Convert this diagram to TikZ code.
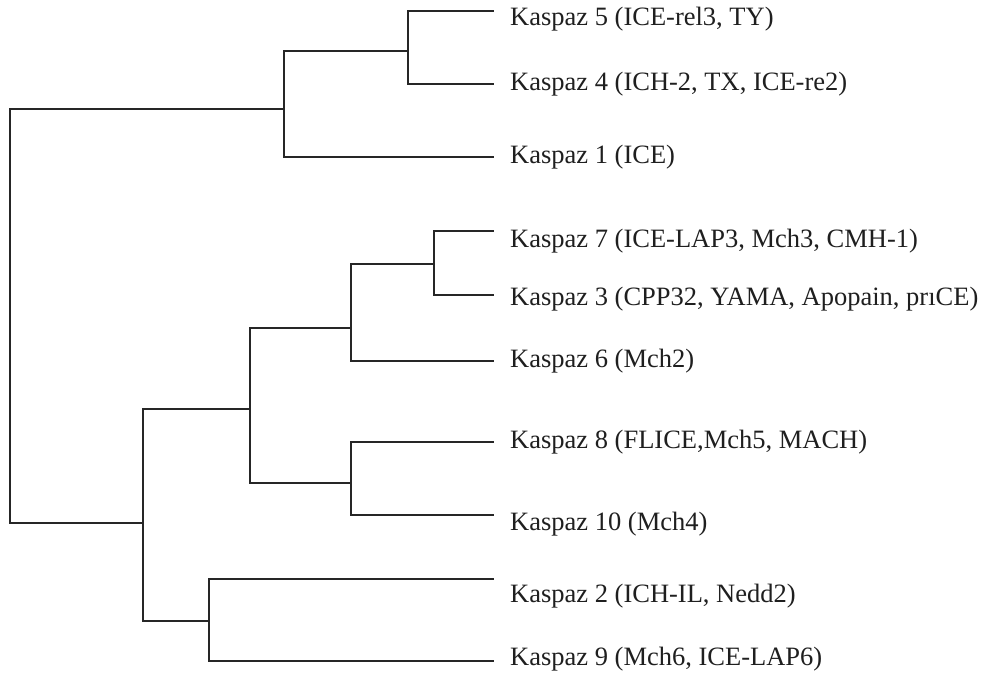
\documentclass[tikz,border=0pt]{standalone}
\usepackage{fontspec}
\setmainfont{Liberation Serif}
\begin{document}
\begin{tikzpicture}[x=1pt,y=-1pt,
  branch/.style={draw=black!85, line width=1.5pt, line cap=rect},
  leaf/.style={anchor=base west, inner sep=0pt, text=black!88, font=\fontsize{26.5}{30}\selectfont}]
\useasboundingbox[fill=white] (0,0) rectangle (982,675);
% leaf line ends
\coordinate (e5) at (493,11);
\coordinate (e4) at (493,84);
\coordinate (e1) at (493,157);
\coordinate (e7) at (493,231);
\coordinate (e3) at (493,295);
\coordinate (e6) at (493,361);
\coordinate (e8) at (493,442);
\coordinate (e10) at (493,515);
\coordinate (e2) at (493,579);
\coordinate (e9) at (493,661);
% internal nodes
\coordinate (n54) at (408,51);
\coordinate (n541) at (284,109);
\coordinate (n73) at (434,264);
\coordinate (n736) at (351,328);
\coordinate (n810) at (351,483);
\coordinate (n7368) at (250,409);
\coordinate (n29) at (209,621);
\coordinate (nB) at (143,523);
\coordinate (root) at (10,316);
% labels
\node[leaf] (k5) at (510,25) {Kaspaz 5 (ICE-rel3, TY)};
\node[leaf] (k4) at (510,90) {Kaspaz 4 (ICH-2, TX, ICE-re2)};
\node[leaf] (k1) at (510,163) {Kaspaz 1 (ICE)};
\node[leaf] (k7) at (510,247) {Kaspaz 7 (ICE-LAP3, Mch3, CMH-1)};
\node[leaf] (k3) at (510,305) {Kaspaz 3 (CPP32, YAMA, Apopain, prıCE)};
\node[leaf] (k6) at (510,367) {Kaspaz 6 (Mch2)};
\node[leaf] (k8) at (510,448) {Kaspaz 8 (FLICE,Mch5, MACH)};
\node[leaf] (k10) at (510,530) {Kaspaz 10 (Mch4)};
\node[leaf] (k2) at (510,602) {Kaspaz 2 (ICH-IL, Nedd2)};
\node[leaf] (k9) at (510,665) {Kaspaz 9 (Mch6, ICE-LAP6)};
% branches
\draw[branch] (e5) -| (n54) |- (e4);
\draw[branch] (n54) -| (n541) |- (e1);
\draw[branch] (e7) -| (n73) |- (e3);
\draw[branch] (n73) -| (n736) |- (e6);
\draw[branch] (e8) -| (n810) |- (e10);
\draw[branch] (n736) -| (n7368) |- (n810);
\draw[branch] (e2) -| (n29) |- (e9);
\draw[branch] (n7368) -| (nB) |- (n29);
\draw[branch] (n541) -| (root) |- (nB);
\end{tikzpicture}
\end{document}
